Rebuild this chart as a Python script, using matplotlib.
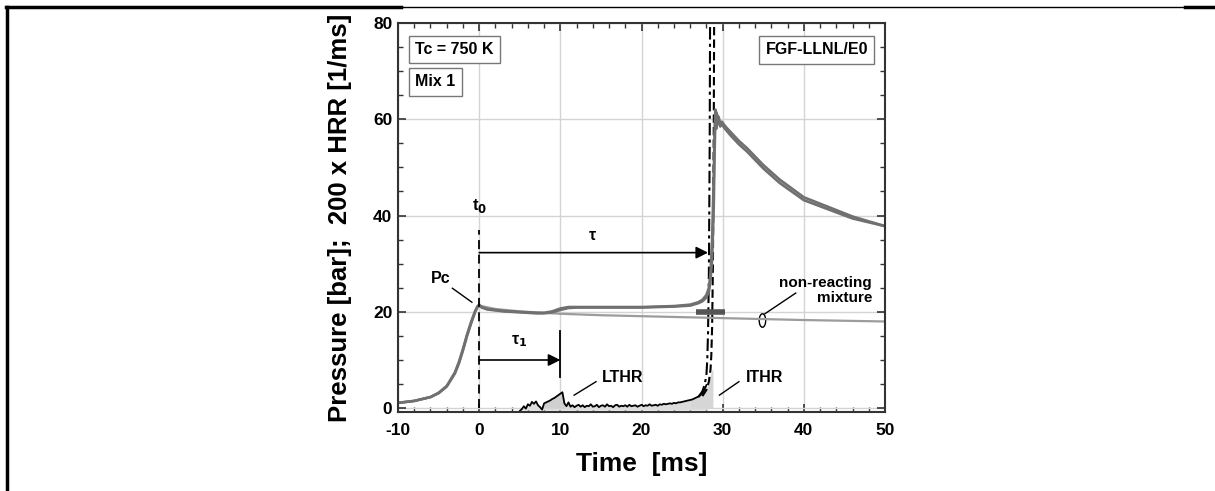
import numpy as np
import matplotlib
matplotlib.use('Agg')
import matplotlib.pyplot as plt
from matplotlib.lines import Line2D
from matplotlib.patches import Ellipse
from matplotlib.ticker import MultipleLocator

plt.rcParams['font.family'] = ['Liberation Sans', 'DejaVu Sans']
plt.rcParams['font.weight'] = 'bold'
plt.rcParams['axes.unicode_minus'] = False

# measured pressure, two runs
P_TIME = [-10, -8, -6, -5, -4, -3, -2.5, -2, -1.5, -1, -0.5, -0.2, 0, 0.3, 1, 2, 3, 5, 7, 8,
          9, 10, 11, 12, 15, 20, 24, 26, 27, 27.5, 28, 28.3, 28.5, 28.7, 28.9, 29.0, 29.1,
          29.2, 29.3, 29.4, 29.5, 29.7, 29.9, 30.2, 30.5, 31, 32, 33, 35, 37, 40, 43, 46, 50]
P_RUN1 = [1.1, 1.5, 2.3, 3.1, 4.5, 7.2, 9.3, 12.0, 15.0, 17.6, 20.0, 21.0, 21.5, 21.0, 20.6,
          20.4, 20.2, 20.0, 19.8, 19.8, 20.1, 20.7, 21.0, 21.0, 21.0, 21.0, 21.2, 21.5, 22.0,
          22.5, 23.5, 25.0, 28.0, 35.0, 48.0, 57.0, 62.0, 58.0, 61.0, 59.0, 60.5, 59.0, 59.5,
          58.8, 58.2, 57.3, 55.5, 54.0, 50.5, 47.5, 43.8, 41.8, 39.8, 37.8]
P_RUN2 = [1.1, 1.5, 2.3, 3.2, 4.6, 7.4, 9.6, 12.3, 15.3, 17.9, 20.2, 21.2, 21.4, 20.9, 20.5,
          20.3, 20.1, 19.9, 19.7, 19.7, 19.9, 20.4, 20.8, 20.9, 20.9, 20.9, 21.1, 21.3, 21.8,
          22.2, 23.0, 24.2, 26.5, 31.0, 42.0, 53.0, 60.0, 61.5, 59.0, 60.5, 59.5, 58.5, 59.0,
          58.2, 57.6, 56.6, 54.8, 53.3, 49.8, 46.8, 43.2, 41.3, 39.4, 37.8]

# non-reacting mixture
NR_TIME = [-10, -8, -6, -5, -4, -3, -2.5, -2, -1.5, -1, -0.5, -0.2, 0, 2, 5, 10, 15, 20, 30, 40, 50]
NR_PRES = [1.1, 1.5, 2.3, 3.1, 4.5, 7.2, 9.3, 12.0, 15.0, 17.6, 20.0, 21.0, 21.3, 20.6, 20.1,
           19.6, 19.3, 19.1, 18.7, 18.3, 18.0]

# 200 x HRR from experiment, 5..28 ms every 0.25 ms
HRR_TIME = np.arange(5.0, 28.01, 0.25)
HRR_EXP = [-0.6, -0.2, 0.4, -0.1, 0.8, 0.5, 1.3, 0.9, 1.4, 0.6, 0.2, -0.3,
           1.0, 1.2, 1.4, 1.6, 1.9, 2.1, 2.4, 2.7, 3.0, 3.3, 1.0, 0.4,
           1.2, 0.3, 0.6, 0.2, 0.5, 0.7, 0.3, 0.6, 0.2, 0.5, 0.4, 0.8,
           0.3, 0.4, 0.7, 0.2, 0.5, 0.6, 0.3, 0.8, 0.4, 0.5, 0.2, 0.6,
           0.7, 0.3, 0.5, 0.4, 0.6, 0.3, 0.7, 0.4, 0.5, 0.6, 0.3, 0.5,
           0.7, 0.4, 0.6, 0.5, 0.8, 0.5, 0.6, 0.7, 0.5, 0.8, 0.7, 0.9,
           0.8, 0.9, 1.0, 0.9, 1.1, 1.0, 1.2, 1.2, 1.3, 1.4, 1.5, 1.6,
           1.7, 1.8, 2.0, 2.2, 2.4, 2.7, 3.1, 3.8, 4.8]

# simulated HRR (two models)
SIM1_TIME = [27.0, 27.5, 27.8, 28.0, 28.1, 28.2, 28.3, 28.4, 28.45]
SIM1_HRR = [2.3, 3.5, 5.0, 7.0, 10.0, 16.0, 28.0, 55.0, 82.0]
SIM2_TIME = [27.5, 28.0, 28.3, 28.5, 28.6, 28.7, 28.8, 28.9, 28.95]
SIM2_HRR = [2.5, 3.8, 5.5, 8.0, 11.0, 17.0, 30.0, 58.0, 82.0]

# ITHR shaded area
ITHR_TIME = [26.0, 27.0, 27.5, 28.0, 28.3, 28.5, 28.7, 28.8]
ITHR_VAL = [1.7, 2.4, 3.1, 4.0, 5.5, 7.0, 8.0, 8.0]

PRES_COLOR = '#707070'
NR_COLOR = '#9c9c9c'


def draw():
    fig = plt.figure(figsize=(12.15, 4.91), dpi=100)
    ax = fig.add_axes([0.3276, 0.1609, 0.4008, 0.7923])

    # page frame lines
    fig.add_artist(Line2D([0.005, 0.33], [0.986, 0.986], color='black', lw=2.5))
    fig.add_artist(Line2D([0.975, 0.998], [0.986, 0.986], color='black', lw=2.5))
    fig.add_artist(Line2D([0.33, 0.975], [0.986, 0.986], color='black', lw=1.0))
    fig.add_artist(Line2D([0.0055, 0.0055], [0.0, 0.986], color='black', lw=2.5))

    # HRR fills
    t = np.asarray(HRR_TIME)
    h = np.asarray(HRR_EXP)
    ax.fill_between(t, -0.4, h, color='#dcdcdc', lw=0)
    ax.fill_between(ITHR_TIME, 0, ITHR_VAL, color='#d6d6d6', lw=0)
    mask = (t >= 7.75) & (t <= 10.5)
    ax.fill_between(t[mask], 0, h[mask], color='#d0d0d0', lw=0)

    ax.plot(t, h, color='black', lw=1.3)
    ax.plot(SIM1_TIME, SIM1_HRR, color='black', lw=1.5, ls=(0, (6, 2, 1.5, 2)))
    ax.plot(SIM2_TIME, SIM2_HRR, color='black', lw=1.5, ls=(0, (4, 2)))

    # pressure traces
    ax.plot(NR_TIME, NR_PRES, color=NR_COLOR, lw=1.6)
    ax.plot(P_TIME, P_RUN2, color=PRES_COLOR, lw=1.9)
    ax.plot(P_TIME, P_RUN1, color=PRES_COLOR, lw=1.9)

    # thick bar at ignition
    ax.plot([26.7, 30.3], [20, 20], color='#555555', lw=4, solid_capstyle='butt')

    # annotations
    ax.plot([0, 0], [0, 37], color='black', lw=1.3, ls=(0, (5, 3)))
    ax.text(0, 42, 't$_\\mathbf{0}$', ha='center', va='center', fontsize=12, fontweight='bold')
    ax.annotate('', xy=(28.2, 32.3), xytext=(0, 32.3),
                arrowprops=dict(arrowstyle='-|>', color='black', lw=1.2, mutation_scale=18,
                                shrinkA=0, shrinkB=0))
    ax.text(13.9, 35.8, '\u03c4', ha='center', va='center', fontsize=11.5)
    ax.annotate('', xy=(10, 10), xytext=(0, 10),
                arrowprops=dict(arrowstyle='-|>', color='black', lw=1.2, mutation_scale=18,
                                shrinkA=0, shrinkB=0))
    ax.plot([10, 10], [6.5, 16], color='black', lw=1.3)
    ax.text(4.9, 14, '\u03c4$_\\mathbf{1}$', ha='center', va='center', fontsize=11.5)

    ax.text(-4.8, 27, 'Pc', ha='center', va='center', fontsize=11.5)
    ax.plot([-3.3, -0.9], [24.9, 22.0], color='black', lw=1)

    ax.text(15.1, 6.4, 'LTHR', ha='left', va='center', fontsize=11.5)
    ax.plot([11.7, 14.4], [2.7, 5.5], color='black', lw=1)
    ax.text(32.9, 6.4, 'ITHR', ha='left', va='center', fontsize=11.5)
    ax.plot([29.6, 32.0], [2.7, 5.5], color='black', lw=1)

    ax.text(48.4, 24.4, 'non-reacting\nmixture', ha='right', va='center', fontsize=11,
            linespacing=1.1)
    ax.add_patch(Ellipse((34.9, 18.2), 0.8, 2.8, fill=False, ec='black', lw=1))
    ax.plot([35.2, 39.0], [19.6, 23.9], color='black', lw=1)

    box = dict(boxstyle='square,pad=0.4', fc='white', ec='#777777', lw=1)
    ax.text(-7.9, 74.5, 'Tc = 750 K', ha='left', va='center', fontsize=11.5, bbox=box)
    ax.text(-7.9, 67.8, 'Mix 1', ha='left', va='center', fontsize=11.5, bbox=box)
    ax.text(41.6, 74.4, 'FGF-LLNL/E0', ha='center', va='center', fontsize=11.5, bbox=box)

    # axes styling
    ax.set_xlim(-10, 50)
    ax.set_ylim(-0.8, 80)
    ax.xaxis.set_major_locator(MultipleLocator(10))
    ax.xaxis.set_minor_locator(MultipleLocator(2))
    ax.yaxis.set_major_locator(MultipleLocator(20))
    ax.yaxis.set_minor_locator(MultipleLocator(5))
    ax.tick_params(which='both', direction='in', top=True, right=True, color='#333333')
    ax.tick_params(which='major', length=6, width=1.2, labelsize=12.5)
    ax.tick_params(which='minor', length=3.5, width=1)
    ax.tick_params(axis='x', which='major', pad=8)
    ax.tick_params(axis='y', which='major', pad=4)
    for lab in ax.get_xticklabels() + ax.get_yticklabels():
        lab.set_fontweight('bold')
    ax.grid(True, which='major', color='#d4d4d4', lw=1)
    ax.set_axisbelow(True)
    for sp in ax.spines.values():
        sp.set_color('#333333')
        sp.set_linewidth(1.5)

    ax.set_xlabel('Time  [ms]', fontsize=19, fontweight='bold', labelpad=10)
    ax.set_ylabel('Pressure [bar];  200 x HRR [1/ms]', fontsize=18.5, fontweight='bold')
    ax.yaxis.set_label_coords(-0.095, 0.5)

    fig.savefig('out.png', dpi=100)


if __name__ == '__main__':
    draw()
